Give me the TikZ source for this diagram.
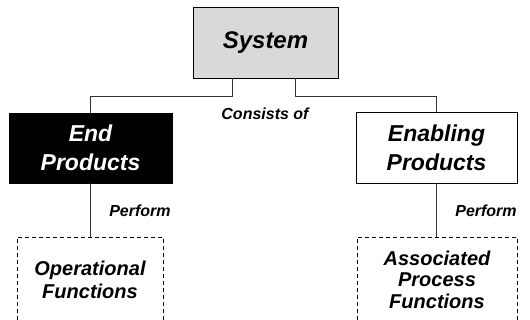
\documentclass[tikz,border=0pt]{standalone}
\usepackage{fontspec}
\setmainfont{Liberation Sans}
\usetikzlibrary{calc}
\begin{document}
\begin{tikzpicture}[x=1pt,y=-1pt,
  box/.style={draw=black,line width=0.8pt,rectangle,inner sep=0pt,align=center,font=\bfseries\itshape},
  dbox/.style={box,dash pattern=on 4pt off 3pt},
  lbl/.style={font=\bfseries\itshape\fontsize{16}{19}\selectfont,inner sep=0pt},
  conn/.style={draw=black!80,line width=0.8pt}]
\useasboundingbox (0,0) rectangle (530,320);
\node[box,fill=black!15,minimum width=145pt,minimum height=71pt,font=\bfseries\itshape\fontsize{24}{28}\selectfont] (sys) at (265.5,42.5) {System};
\node[box,fill=black,text=white,minimum width=163pt,minimum height=70pt,font=\bfseries\itshape\fontsize{23}{29}\selectfont] (endp) at (90.5,148) {End\\Products};
\node[box,fill=white,minimum width=161pt,minimum height=71pt,font=\bfseries\itshape\fontsize{23}{29}\selectfont] (enab) at (436.5,147.5) {Enabling\\Products};
\node[dbox,minimum width=146pt,minimum height=84pt,anchor=north,font=\bfseries\itshape\fontsize{20}{23}\selectfont] (opf) at (90,237) {Operational\\Functions};
\node[dbox,minimum width=160pt,minimum height=84pt,anchor=north,font=\bfseries\itshape\fontsize{20}{21.5}\selectfont] (apf) at (437,237) {Associated\\Process\\Functions};
\coordinate (jl) at (232,96);
\coordinate (jr) at (295,96);
\draw[conn] (sys.south -| jl) -- (jl) -| (endp.north);
\draw[conn] (sys.south -| jr) -- (jr) -| (enab.north);
\draw[conn] (endp.south) -- (endp.south |- opf.north);
\draw[conn] (enab.south) -- (enab.south |- apf.north);
\node[lbl] (cons) at (265,114) {Consists of};
\node[lbl] (perl) at (140,211) {Perform};
\node[lbl] (perr) at (486,211) {Perform};
\end{tikzpicture}
\end{document}
